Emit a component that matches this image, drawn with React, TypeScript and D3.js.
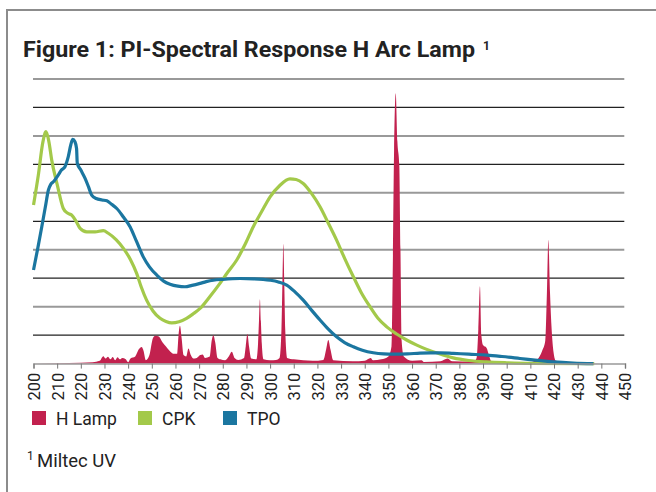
import type React from "react"
import { useEffect, useRef } from "react"
import * as d3 from "d3"

// wavelength (nm), relative response
const hLamp: [number, number][] = [
  [200, 0], [215, 0.2], [225, 0.5], [228, 1], [229.5, 2.6], [230.5, 1.8], [231.5, 2.4], [232.5, 1.5],
  [233.5, 2.3], [234.5, 1.2], [235.5, 2.2], [236.5, 1.5], [237.5, 2.0], [239, 1.5], [240, 0.5],
  [241, 1.8], [243, 2.5], [244.5, 5], [245.7, 5.8], [246.5, 4.5], [247.5, 1.2], [249, 3],
  [250.5, 9], [251.5, 9.8], [253, 9.5], [254.5, 7.5], [256, 6], [257.5, 4.5], [259, 3.5],
  [260.7, 3.5], [261.3, 10], [261.9, 13.3], [262.6, 9], [263.4, 3], [264.5, 2.5], [265.5, 5.3],
  [266.5, 3], [267.5, 1.8], [269, 2], [270.5, 3], [271.5, 3.2], [272.5, 2], [274.5, 2.5],
  [275.3, 8], [276, 10], [276.8, 7.5], [277.8, 2], [279, 1.5], [281, 1.2], [282.5, 2.5],
  [283.8, 4.2], [285, 2], [286.5, 1.3], [289, 2], [289.7, 6], [290.4, 10.4], [291.1, 6],
  [292, 1.8], [294.2, 1.5], [294.9, 7], [295.3, 15], [295.7, 22.6], [296.1, 15], [296.5, 7],
  [297.2, 1.5], [300, 1.2], [302.5, 1.3], [304, 2], [304.8, 12], [305.2, 28], [305.6, 42],
  [306, 28], [306.4, 12], [307.2, 2], [310, 1.5], [314, 1.2], [318, 1.0], [322.5, 1.3],
  [323.7, 5], [324.6, 8.3], [325.5, 5], [326.7, 1.2], [335, 0.8], [340, 1], [342.5, 2],
  [343.5, 1.2], [347, 1.5], [350, 2.5], [351.3, 6], [351.8, 30], [352.4, 75], [353.1, 95],
  [353.8, 78], [354.6, 70], [355.1, 40], [355.6, 8], [356.5, 2.5], [360, 1], [364, 1.2],
  [365, 0.6], [372, 0.8], [375, 1.8], [377, 0.8], [386, 0.7], [387.3, 2], [388, 12],
  [388.7, 27.2], [389.3, 10], [390, 6.5], [391.5, 5.5], [392.5, 3], [393.5, 0.8], [400, 0.4],
  [410, 0.5], [413, 1.5], [415, 4.5], [416.3, 8], [417, 25], [417.6, 43.4], [418.3, 25],
  [419, 12], [419.8, 4], [420.8, 1], [425, 0.6], [432, 0.2], [440, 0],
]

const cpk: [number, number][] = [
  [200, 55.7], [202, 66], [204, 78], [205.3, 81.5], [206.5, 78], [207.7, 71.5], [210, 63],
  [212.6, 54.5], [214.5, 52.8], [216.1, 52.2], [218, 50], [219.7, 47.5], [222.5, 46.3],
  [226, 46.3], [229.5, 46.7], [231.6, 45.8], [235, 43.5], [238, 40.5], [241, 36.5],
  [243.6, 31.7], [245.5, 27], [247.8, 22.3], [250.5, 18.5], [253.5, 15.9], [256, 14.8],
  [258.4, 14.3], [261.5, 14.7], [264.7, 15.9], [267.5, 17.5], [270.4, 19.4], [274.5, 23.5],
  [278.8, 28.2], [282, 32], [285.9, 36.4], [289.5, 42], [292.9, 48.1], [296.5, 53.5],
  [300, 58.6], [304, 62.5], [308.4, 64.9], [311, 64.7], [314, 63.3], [317.5, 59.8],
  [321.1, 55.1], [324.5, 49.5], [328.1, 43.4], [331.5, 37], [335.2, 30.5], [338.5, 25],
  [342.2, 20], [345.5, 16], [349.3, 12.9], [353.5, 10.4], [357.7, 8.3], [362, 6.5],
  [366.2, 5], [371, 3.6], [377.4, 2.0], [384, 1.1], [391.5, 0.6], [400, 0.3], [410, 0.1],
  [437, 0],
]

const tpo: [number, number][] = [
  [200, 32.9], [201.8, 40.5], [203.5, 48.1], [205, 55], [206.3, 61], [207.3, 63], [208.4, 63.9],
  [210.5, 66.3], [211.8, 68], [213.3, 69.2], [214.7, 72.7], [215.8, 77], [216.6, 78.8],
  [217.5, 78], [218.2, 75.6], [218.5, 70.4], [220, 68], [221.8, 65.1], [223.3, 62],
  [224.6, 59.2], [226.5, 58], [229, 57.5], [231, 57.2], [233, 56], [235.2, 54.5], [238, 51.5],
  [240.8, 48.1], [243.5, 43], [246.4, 37.5], [249, 34], [252.1, 31.1], [255, 29],
  [257.7, 27.9], [261, 27.2], [264, 27], [267, 27.5], [270.4, 28.2], [273, 28.8], [276, 29.3],
  [280, 29.6], [287.3, 29.9], [293, 29.8], [300, 29.3], [303.5, 28.7], [307, 27.6],
  [310.5, 25.2], [314, 22.3], [317.5, 18.8], [321.1, 15.3], [324.5, 12.2], [328.1, 9.4],
  [331.5, 7.4], [335.2, 5.9], [339, 4.7], [343.6, 3.8], [348, 3.4], [352.1, 3.3], [358, 3.4],
  [363.4, 3.7], [368, 3.8], [372, 3.8], [377.4, 3.6], [384, 3.3], [391.5, 3.0], [398, 2.5],
  [405.6, 1.8], [412, 1.2], [419.7, 0.6], [428, 0.2], [436.6, 0],
]

const xTicks = d3.range(200, 451, 10)
const gridValues = d3.range(10, 101, 10)

const legendItems = [
  { label: "H Lamp", color: "#c2214e" },
  { label: "CPK", color: "#a3c94a" },
  { label: "TPO", color: "#1b76a0" },
]

const font = "Roboto, 'DejaVu Sans', sans-serif"

const App: React.FC = () => {
  const svgRef = useRef<SVGSVGElement | null>(null)

  useEffect(() => {
    const svg = d3.select(svgRef.current)
    svg.selectAll("*").remove()

    const x = d3.scaleLinear().domain([200, 450]).range([33.5, 625])
    const y = d3.scaleLinear().domain([0, 100]).range([363.6, 79])

    // frame
    svg.append("path")
      .attr("d", "M7,492V10H656")
      .attr("fill", "none")
      .attr("stroke", "#8c8c8c")
      .attr("stroke-width", 2)

    // title
    const title = svg.append("text")
      .attr("y", 57)
      .attr("font-family", font)
      .attr("font-weight", "bold")
      .attr("font-size", 22)
      .attr("fill", "#222")
    title.append("tspan")
      .attr("x", 23)
      .attr("textLength", 452)
      .attr("lengthAdjust", "spacingAndGlyphs")
      .text("Figure 1: PI-Spectral Response H Arc Lamp")
    title.append("tspan").attr("x", 483).attr("dy", -7).attr("font-size", 12).text("1")

    // grid
    svg.append("g")
      .selectAll("line")
      .data(gridValues)
      .enter()
      .append("line")
      .attr("x1", x(200) - 0.5)
      .attr("x2", 624.3)
      .attr("y1", (d) => y(d))
      .attr("y2", (d) => y(d))
      .attr("stroke", (d) => (d % 20 === 0 ? "#999" : "#222"))
      .attr("stroke-width", (d) => (d % 20 === 0 ? 2 : 1.2))

    // H lamp area
    const area = d3.area<[number, number]>()
      .x((d) => x(d[0]))
      .y0(y(0))
      .y1((d) => y(d[1]))
      .curve(d3.curveMonotoneX)
    svg.append("path")
      .datum(hLamp)
      .attr("d", area)
      .attr("fill", legendItems[0].color)

    const line = d3.line<[number, number]>()
      .x((d) => x(d[0]))
      .y((d) => y(d[1]))
      .curve(d3.curveMonotoneX)

    svg.append("path")
      .datum(cpk)
      .attr("d", line)
      .attr("fill", "none")
      .attr("stroke", legendItems[1].color)
      .attr("stroke-width", 3.2)

    svg.append("path")
      .datum(tpo)
      .attr("d", line)
      .attr("fill", "none")
      .attr("stroke", legendItems[2].color)
      .attr("stroke-width", 3.2)

    // x axis
    const axis = svg.append("g")
      .attr("transform", `translate(0,${y(0)})`)
      .call(d3.axisBottom(x).tickValues(xTicks).tickSize(5).tickFormat(d3.format("d")))
    axis.select(".domain").attr("stroke", "#999").attr("stroke-width", 1.5)
    axis.selectAll(".tick line").attr("stroke", "#777")
    axis.selectAll(".tick text")
      .attr("font-family", font)
      .attr("font-size", 16.5)
      .attr("fill", "#222")
      .attr("text-anchor", "end")
      .attr("transform", "rotate(-90)")
      .attr("x", -9)
      .attr("y", 0)
      .attr("dy", "0.36em")

    // legend
    const legendX = [32, 138, 223]
    const lg = svg.append("g")
      .selectAll("g")
      .data(legendItems)
      .enter()
      .append("g")
      .attr("transform", (_d, i) => `translate(${legendX[i]},411)`)
    lg.append("rect").attr("width", 14).attr("height", 14).attr("fill", (d) => d.color)
    lg.append("text")
      .attr("x", 24)
      .attr("y", 13.5)
      .attr("font-family", font)
      .attr("font-size", 17.5)
      .attr("fill", "#222")
      .text((d) => d.label)

    // footnote
    const foot = svg.append("text")
      .attr("x", 27)
      .attr("y", 467)
      .attr("font-family", font)
      .attr("font-size", 18.5)
      .attr("fill", "#222")
    foot.append("tspan").attr("font-size", 12).attr("dy", -7).text("1")
    foot.append("tspan").attr("x", 37).attr("dy", 7).text("Miltec UV")
  }, [])

  return (
    <svg
      ref={svgRef}
      width={656}
      height={492}
      style={{ position: "absolute", left: 0, top: 0, background: "#fff" }}
    ></svg>
  )
}

export default App
